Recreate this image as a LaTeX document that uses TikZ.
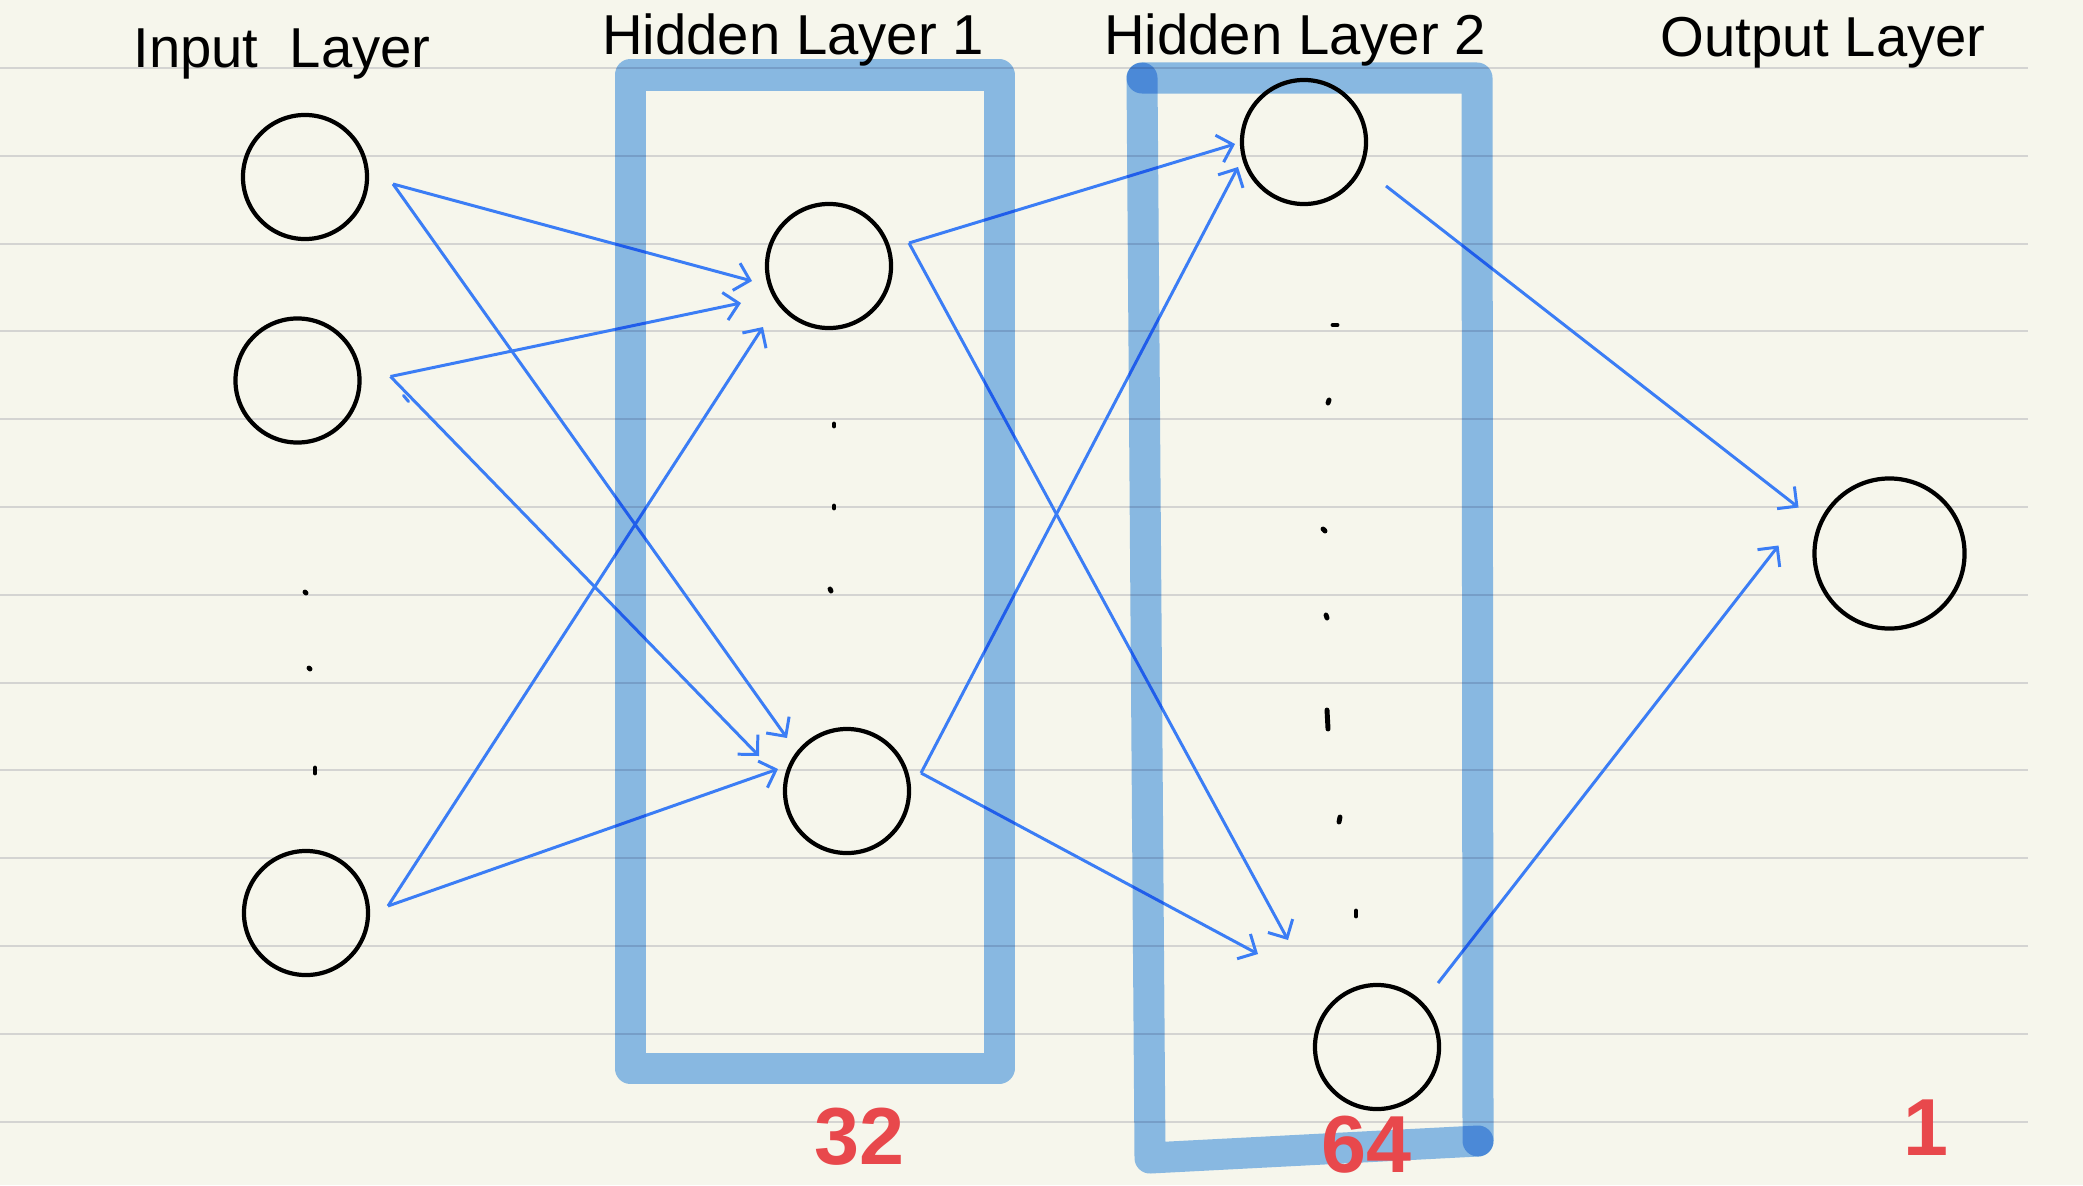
\documentclass[tikz,border=0pt]{standalone}
\usepackage{fontspec}
\setmainfont{Liberation Sans}
\usepackage{tikz}
\usetikzlibrary{arrows.meta}
\definecolor{paper}{RGB}{246,246,236}
\definecolor{ruling}{RGB}{212,212,210}
\definecolor{wire}{RGB}{59,125,245}
\definecolor{band}{RGB}{142,191,244}
\definecolor{countred}{RGB}{232,72,76}

\begin{document}
\begin{tikzpicture}[
  x=0.01cm, y=-0.01cm,
  neuron/.style={draw, circle, line width=1.2pt, minimum size=1.24cm, inner sep=0pt},
  layertitle/.style={anchor=base, font=\fontsize{16}{19}\selectfont},
  unitcount/.style={text=countred, inner sep=0pt, font=\fontsize{23}{27}\selectfont\bfseries},
  layerbox/.style={draw=band, line width=0.31cm, line join=round, line cap=round},
  arr/.style={-{Straight Barb[length=4pt,width=8pt]}, draw=wire, line width=0.85pt},
  dotmark/.style={line width=1.4pt, line cap=round},
]
\fill[paper] (0,0) rectangle (2083,1185);
\useasboundingbox (0,0) rectangle (2083,1185);
\foreach \k in {0,...,12}
  \draw[ruling, line width=0.6pt] (0,68+87.8*\k) -- (2028,68+87.8*\k);

\node[neuron] (i1) at (305,177) {};
\node[neuron] (i2) at (297.5,380.5) {};
\node[neuron] (i3) at (306,913) {};
\node[neuron] (h1a) at (829,266) {};
\node[neuron] (h1b) at (847,791) {};
\node[neuron] (h2a) at (1304,142) {};
\node[neuron] (h2b) at (1377,1047) {};
\node[neuron, minimum size=1.5cm] (out) at (1889.5,553.5) {};

\draw[arr] ([shift={(88,7)}]i1.center) -- ([shift={(-77,15)}]h1a.center);
\draw[arr] ([shift={(88,7)}]i1.center) -- ([shift={(-60,-53)}]h1b.center);
\draw[arr] ([shift={(93,-4)}]i2.center) -- ([shift={(-88,37)}]h1a.center);
\draw[arr] ([shift={(93,-4)}]i2.center) -- ([shift={(-88,-35)}]h1b.center);
\draw[wire, line width=0.85pt, line cap=round] ([shift={(106,15)}]i2.center) -- ([shift={(111,21)}]i2.center);
\draw[arr] ([shift={(82,-7)}]i3.center) -- ([shift={(-66,61)}]h1a.center);
\draw[arr] ([shift={(82,-7)}]i3.center) -- ([shift={(-69,-22)}]h1b.center);
\draw[arr] ([shift={(80,-23)}]h1a.center) -- ([shift={(-69,2)}]h2a.center);
\draw[arr] ([shift={(80,-23)}]h1a.center) -- ([shift={(-89,-107)}]h2b.center);
\draw[arr] ([shift={(74,-18)}]h1b.center) -- ([shift={(-66,25)}]h2a.center);
\draw[arr] ([shift={(74,-18)}]h1b.center) -- ([shift={(-119,-93)}]h2b.center);
\draw[arr] ([shift={(82,44)}]h2a.center) -- ([shift={(-91,-46)}]out.center);
\draw[arr] ([shift={(61,-64)}]h2b.center) -- ([shift={(-111,-8)}]out.center);

\begin{scope}[blend mode=multiply]
\draw[layerbox] (630,75) -- (999,75) -- (999,1068) -- (630,1068) -- cycle;
\draw[layerbox] (1478,1141) -- (1477,78) -- (1142,78);
\draw[layerbox] (1142,78) -- (1150,1158) -- (1478,1141);
\end{scope}

\draw[dotmark] (305,592) -- (306,593);
\draw[dotmark] (309,668) -- (310,669);
\draw[dotmark] (315,768) -- (315,773);
\draw[dotmark] (834,424) -- (834,426);
\draw[dotmark] (834,506) -- (834,508);
\draw[dotmark] (830,589) -- (831,591);
\draw[dotmark] (1333,325) -- (1337,325);
\draw[dotmark] (1329,400) -- (1328,403);
\draw[dotmark] (1323,529) -- (1325,531);
\draw[dotmark] (1326,615) -- (1327,618);
\draw[dotmark] (1327,710) -- (1328,729);
\draw[dotmark] (1340,817) -- (1339,822);
\draw[dotmark] (1356,911) -- (1356,916);

\node[layertitle] (tin) at (282,68) {Input\ \ Layer};
\node[layertitle] (th1) at (793,55) {Hidden Layer 1};
\node[layertitle] (th2) at (1295,55) {Hidden Layer 2};
\node[layertitle] (tout) at (1823,57) {Output Layer};

\node[unitcount] (n32) at (859,1137) {32};
\node[unitcount] (n64) at (1366,1145) {64};
\node[unitcount] (n1) at (1926,1128) {1};
\end{tikzpicture}
\end{document}
